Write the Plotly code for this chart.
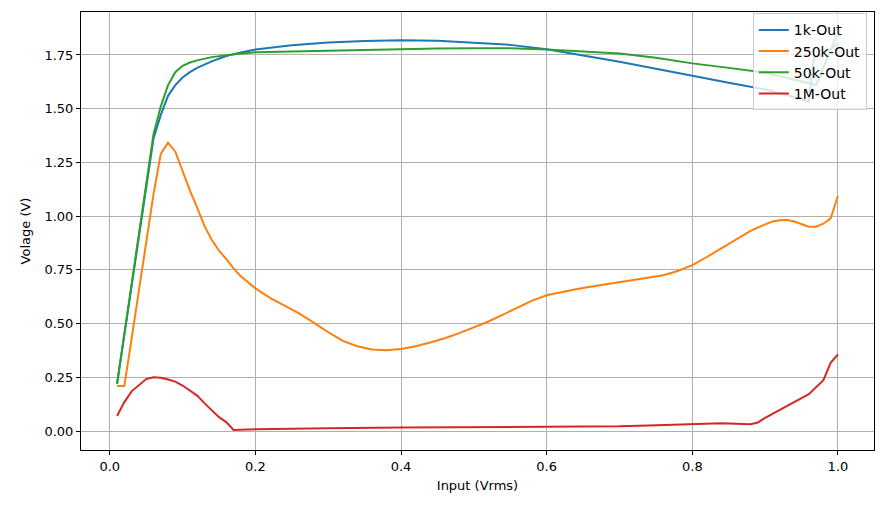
import plotly.graph_objects as go

# ---- data ----
x_1k = [0.01, 0.02, 0.03, 0.04, 0.05, 0.06, 0.07, 0.08, 0.09, 0.10, 0.11, 0.12, 0.14, 0.16,
        0.18, 0.20, 0.25, 0.30, 0.35, 0.40, 0.45, 0.50, 0.55, 0.60, 0.65, 0.70, 0.75, 0.80,
        0.85, 0.90, 0.95, 0.96, 0.967, 0.976, 0.99, 1.00]
y_1k = [0.22, 0.45, 0.68, 0.91, 1.14, 1.36, 1.47, 1.56, 1.61, 1.645, 1.67, 1.69, 1.72, 1.745,
        1.762, 1.776, 1.795, 1.808, 1.815, 1.818, 1.816, 1.808, 1.797, 1.777, 1.748, 1.718,
        1.686, 1.652, 1.621, 1.590, 1.545, 1.532, 1.736, 1.75, 1.78, 1.80]

x_250k = [0.01, 0.02, 0.03, 0.04, 0.05, 0.06, 0.07, 0.08, 0.09, 0.10, 0.11, 0.12, 0.13, 0.14,
          0.15, 0.16, 0.17, 0.18, 0.19, 0.20, 0.22, 0.24, 0.26, 0.28, 0.30, 0.32, 0.34, 0.36,
          0.38, 0.40, 0.42, 0.44, 0.46, 0.48, 0.50, 0.52, 0.54, 0.56, 0.58, 0.60, 0.62, 0.64,
          0.66, 0.68, 0.70, 0.72, 0.74, 0.76, 0.78, 0.80, 0.82, 0.84, 0.86, 0.88, 0.90, 0.91,
          0.92, 0.93, 0.94, 0.95, 0.96, 0.97, 0.98, 0.99, 1.00]
y_250k = [0.21, 0.21, 0.43, 0.66, 0.88, 1.10, 1.29, 1.342, 1.30, 1.21, 1.12, 1.04, 0.955, 0.89,
          0.84, 0.80, 0.757, 0.72, 0.69, 0.664, 0.62, 0.585, 0.548, 0.505, 0.46, 0.42, 0.395,
          0.38, 0.376, 0.382, 0.395, 0.412, 0.432, 0.456, 0.483, 0.51, 0.542, 0.574, 0.607,
          0.632, 0.647, 0.66, 0.672, 0.683, 0.694, 0.704, 0.713, 0.725, 0.745, 0.772, 0.81,
          0.85, 0.893, 0.932, 0.962, 0.975, 0.981, 0.982, 0.975, 0.962, 0.951, 0.951, 0.965,
          0.99, 1.094]

x_50k = [0.01, 0.02, 0.03, 0.04, 0.05, 0.06, 0.07, 0.08, 0.09, 0.10, 0.11, 0.12, 0.14, 0.16,
         0.18, 0.20, 0.25, 0.30, 0.35, 0.40, 0.45, 0.50, 0.55, 0.60, 0.65, 0.70, 0.75, 0.80,
         0.85, 0.90, 0.95, 0.97, 1.00]
y_50k = [0.22, 0.45, 0.68, 0.91, 1.14, 1.38, 1.51, 1.61, 1.67, 1.70, 1.715, 1.725, 1.74, 1.75,
         1.757, 1.763, 1.767, 1.770, 1.774, 1.778, 1.780, 1.781, 1.781, 1.776, 1.768, 1.757,
         1.737, 1.711, 1.690, 1.668, 1.627, 1.61, 1.855]

x_1M = [0.01, 0.02, 0.03, 0.04, 0.05, 0.06, 0.07, 0.08, 0.09, 0.10, 0.11, 0.12, 0.13, 0.14,
        0.15, 0.16, 0.17, 0.20, 0.25, 0.30, 0.40, 0.50, 0.60, 0.70, 0.74, 0.80, 0.84, 0.88,
        0.89, 0.90, 0.92, 0.94, 0.96, 0.98, 0.99, 1.00]
y_1M = [0.07, 0.135, 0.185, 0.215, 0.242, 0.25, 0.248, 0.24, 0.23, 0.212, 0.19, 0.165, 0.13,
        0.095, 0.065, 0.042, 0.005, 0.008, 0.012, 0.013, 0.017, 0.018, 0.02, 0.022, 0.026,
        0.034, 0.036, 0.032, 0.04, 0.062, 0.10, 0.138, 0.172, 0.237, 0.318, 0.357]

series = [
    ("1k-Out", x_1k, y_1k, "#1f77b4"),
    ("250k-Out", x_250k, y_250k, "#ff7f0e"),
    ("50k-Out", x_50k, y_50k, "#2ca02c"),
    ("1M-Out", x_1M, y_1M, "#d62728"),
]

x_ticks = [0.0, 0.2, 0.4, 0.6, 0.8, 1.0]
y_ticks = [0.0, 0.25, 0.5, 0.75, 1.0, 1.25, 1.5, 1.75]

fig = go.Figure()
for name, xs, ys, col in series:
    fig.add_trace(go.Scatter(x=xs, y=ys, mode="lines", name=name,
                             line=dict(color=col, width=2)))

axis_common = dict(
    showline=True, linecolor="black", linewidth=1, mirror=True,
    ticks="outside", ticklen=4, tickcolor="black", tickwidth=1,
    showgrid=True, gridcolor="#b0b0b0", gridwidth=1, zeroline=False,
    automargin=False,
    tickfont=dict(family="DejaVu Sans", size=13, color="black"),
)

fig.update_layout(
    width=882, height=505,
    margin=dict(l=81, r=8, t=12, b=55),
    paper_bgcolor="white", plot_bgcolor="white",
    font=dict(family="DejaVu Sans", size=13, color="black"),
    xaxis=dict(range=[-0.0395, 1.0495], tickvals=x_ticks, tickformat=".1f",
               title=dict(text="Input (Vrms)", standoff=8,
                          font=dict(family="DejaVu Sans", size=13)),
               **axis_common),
    yaxis=dict(range=[-0.088, 1.95], tickvals=y_ticks, tickformat=".2f",
               title=dict(text="Volage (V)", standoff=10,
                          font=dict(family="DejaVu Sans", size=13)),
               **axis_common),
    legend=dict(x=0.991, y=0.997, xanchor="right", yanchor="top",
                bgcolor="rgba(255,255,255,0.8)", bordercolor="#cccccc", borderwidth=1,
                font=dict(family="DejaVu Sans", size=14), itemwidth=30,
                tracegroupgap=0),
    showlegend=True,
)

fig.write_html("out.html",
               config={"displayModeBar": False},
               post_script="document.body.style.margin='0';document.body.style.overflow='hidden';")
